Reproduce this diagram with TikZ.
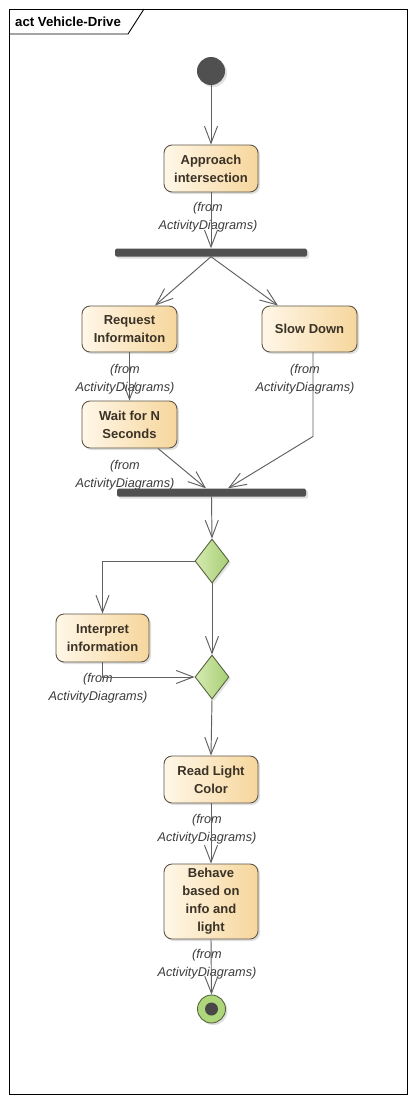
\documentclass[tikz,border=0pt]{standalone}
\usepackage{fontspec}
\setmainfont{Liberation Sans}
\usetikzlibrary{arrows.meta,shapes.geometric,shadows}
\definecolor{boxL}{HTML}{FFF7E8}
\definecolor{boxR}{HTML}{F6D69C}
\definecolor{boxline}{HTML}{5E5548}
\definecolor{boxtext}{HTML}{3A3226}
\definecolor{linec}{HTML}{616161}
\definecolor{barc}{HTML}{505050}
\definecolor{fromc}{HTML}{3C3C3C}
\definecolor{decL}{HTML}{D6EAB2}
\definecolor{decR}{HTML}{A6CF74}
\definecolor{decline}{HTML}{56643E}
\definecolor{finG}{HTML}{AED67A}
\begin{document}
\begin{tikzpicture}[x=1pt,y=-1pt,
  act/.style={rectangle, rounded corners=8pt, draw=boxline, line width=0.9pt,
    left color=boxL, right color=boxR, text=boxtext,
    font=\bfseries\fontsize{13}{18}\selectfont, align=center, inner sep=0pt,
    drop shadow={shadow xshift=2pt, shadow yshift=-2pt, opacity=0.25}},
  bar/.style={rectangle, fill=barc, minimum height=8pt, inner sep=0pt, rounded corners=1.5pt,
    drop shadow={shadow xshift=2pt, shadow yshift=-2pt, opacity=0.25}},
  dec/.style={diamond, minimum width=34pt, minimum height=44pt, inner sep=0pt,
    draw=decline, line width=0.9pt, left color=decL, right color=decR,
    drop shadow={shadow xshift=2pt, shadow yshift=-2pt, opacity=0.2}},
  flow/.style={draw=linec, line width=0.95pt, -{Straight Barb[length=17pt,width=13pt]}},
  fromlbl/.style={font=\itshape\fontsize{12.7}{18}\selectfont, text=fromc, align=center, inner sep=0pt},
]
\useasboundingbox (0,0) rectangle (415,1103);
\fill[white] (0,0) rectangle (415,1103);

% frame
\draw[black, line width=0.9pt] (9,9) rectangle (407,1094);
\draw[black, line width=0.9pt] (9,34) -- (128,34) -- (144,9);
\node[anchor=west, inner sep=0pt, font=\bfseries\fontsize{13.2}{15}\selectfont] (title) at (15,22) {act Vehicle-Drive};

% initial
\node[circle, fill=barc, minimum size=28pt, inner sep=0pt,
  drop shadow={shadow xshift=2pt, shadow yshift=-2pt, opacity=0.25}] (init) at (211,71) {};

% activities
\node[act, minimum width=94pt, minimum height=47pt] (appr) at (211,168.5) {Approach\\intersection};
\node[fromlbl] (fromAppr) at (208,217) {(from\\ActivityDiagrams)};

\node[bar, minimum width=192pt] (bar1) at (211,252.5) {};

\node[act, minimum width=95pt, minimum height=46pt] (req) at (129.5,329) {Request\\Informaiton};
\node[fromlbl] (fromReq) at (125,379) {(from\\ActivityDiagrams)};
\node[act, minimum width=95pt, minimum height=46pt] (slow) at (309.5,329) {Slow Down};
\node[fromlbl] (fromSlow) at (305,379) {(from\\ActivityDiagrams)};

\node[act, minimum width=95pt, minimum height=47pt] (wait) at (129.5,424.5) {Wait for N\\Seconds};
\node[fromlbl] (fromWait) at (125,475) {(from\\ActivityDiagrams)};

\node[bar, minimum width=189pt] (bar2) at (211.5,492.5) {};

\node[dec] (dec1) at (212,561) {};
\node[dec] (dec2) at (212,677) {};

\node[act, minimum width=93pt, minimum height=48pt] (interp) at (102.5,638) {Interpret\\information};
\node[fromlbl] (fromInterp) at (98,688) {(from\\ActivityDiagrams)};

\node[act, minimum width=94pt, minimum height=47pt] (read) at (211,779.5) {Read Light\\Color};
\node[fromlbl] (fromRead) at (207,829.5) {(from\\ActivityDiagrams)};

\node[act, minimum width=94pt, minimum height=75pt] (behave) at (211,901.5) {Behave\\based on\\info and\\light};
\node[fromlbl] (fromBehave) at (207,964.5) {(from\\ActivityDiagrams)};

% final
\node[circle, draw=decline, line width=0.9pt, fill=finG, minimum size=28pt, inner sep=0pt,
  drop shadow={shadow xshift=2pt, shadow yshift=-2pt, opacity=0.25}] (final) at (211.5,1009) {};
\node[circle, fill=barc!90!black, minimum size=13pt, inner sep=0pt] (finaldot) at (final.center) {};

% connectors
\draw[flow] (init.south) -- (appr.north);
\draw[flow] (appr.south) -- (bar1.north);
\draw[flow] (bar1.south) -- ([xshift=25.5pt]req.north);
\draw[flow] (bar1.south) -- ([xshift=-31.5pt]slow.north);
\draw[flow] (req.south) -- (wait.north);
\draw[flow] ([xshift=28.5pt]wait.south) -- ([xshift=-5.5pt]bar2.north);
\draw[flow] ([xshift=3.5pt]slow.south) -- ++(0,84) -- ([xshift=16.5pt]bar2.north);
\draw[flow] (bar2.south) -- (dec1.north);
\draw[flow] (dec1.west) -| (interp.north);
\draw[flow] (dec1.south) -- (dec2.north);
\draw[flow] (interp.south) |- (dec2.west);
\draw[flow] (dec2.south) -- (read.north);
\draw[flow] (read.south) -- (behave.north);
\draw[flow] (behave.south) -- (final.north);
\end{tikzpicture}
\end{document}
